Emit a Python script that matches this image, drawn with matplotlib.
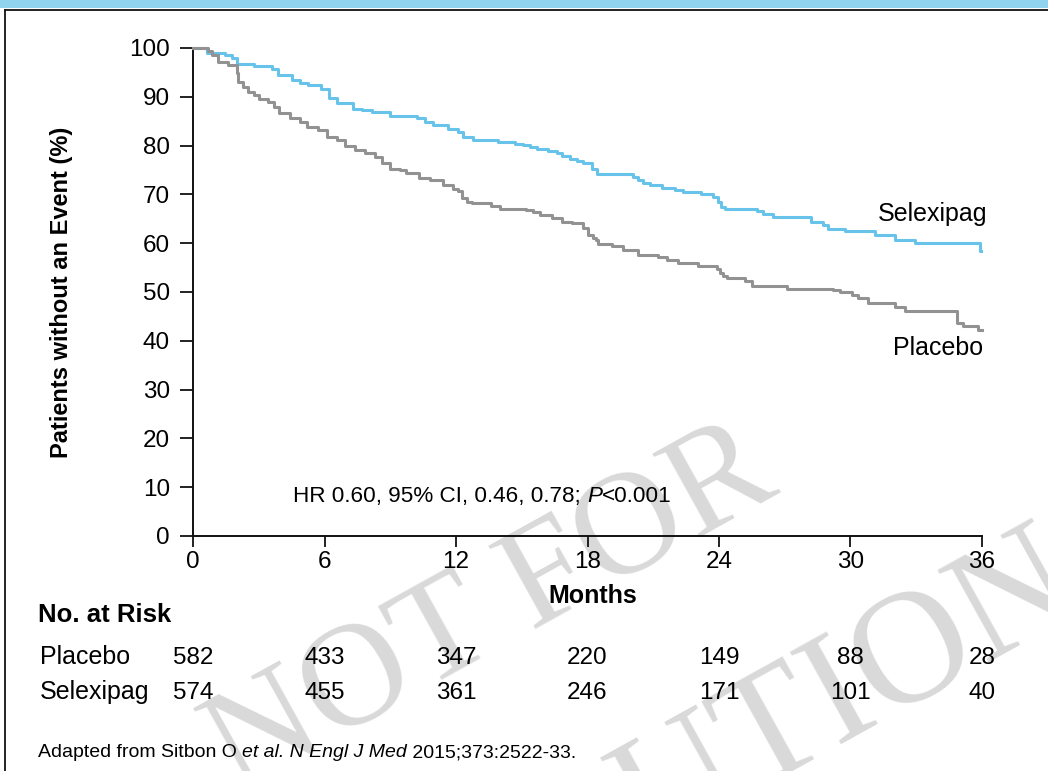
import matplotlib
matplotlib.use('Agg')
import matplotlib.pyplot as plt
import matplotlib.transforms as mtrans
from matplotlib.patches import Rectangle
from matplotlib.lines import Line2D
from matplotlib.font_manager import FontProperties

# ---------------- data ----------------
sel_months = [0, 0.65, 1.45, 1.78, 2.0, 2.8, 3.6, 3.9, 4.5, 4.9, 5.26, 5.84, 6.2, 6.55,
              7.31, 7.7, 8.15, 8.99, 10.2, 10.58, 10.96, 11.65, 12.1, 12.33, 12.79,
              13.93, 14.69, 15.07, 15.37, 15.68, 16.21, 16.59, 16.82, 17.2, 17.5, 17.81,
              18.19, 18.42, 20.09, 20.3, 20.54, 20.85, 21.38, 21.99, 22.37, 23.2, 23.74,
              23.96, 24.1, 24.27, 25.72, 26.02, 26.47, 28.22, 28.76, 28.99, 29.74, 31.11,
              32.03, 32.94, 35.9, 35.95]
sel_surv = [100, 99.0, 98.6, 97.9, 96.7, 96.3, 95.6, 94.4, 93.4, 92.9, 92.4, 91.5, 89.7, 88.7,
            87.5, 87.2, 86.8, 86.1, 85.6, 84.9, 84.2, 83.5, 82.8, 81.8, 81.1,
            80.8, 80.4, 80.1, 79.7, 79.3, 78.9, 78.5, 77.9, 77.3, 76.9, 76.4,
            75.2, 74.1, 73.5, 72.9, 72.4, 71.9, 71.4, 70.9, 70.4, 70.0, 69.5,
            68.5, 67.5, 67.0, 66.6, 66.0, 65.4, 64.4, 63.7, 62.9, 62.4, 61.7,
            60.7, 60.0, 58.3, 58.3]

pbo_months = [0, 0.67, 0.85, 1.16, 1.61, 1.99, 2.07, 2.29, 2.52, 2.8, 3.01, 3.44, 3.7, 3.94,
              4.43, 4.88, 5.19, 5.72, 6.1, 6.55, 6.93, 7.39, 7.85, 8.3, 8.61, 8.99, 9.44,
              9.7, 10.3, 10.8, 11.4, 11.88, 12.1, 12.26, 12.49, 12.72, 13.6, 14.0, 15.2,
              15.5, 15.83, 16.36, 16.82, 17.28, 17.8, 18.03, 18.26, 18.4, 18.49, 19.1,
              19.63, 20.32, 21.23, 21.61, 22.14, 23.05, 23.89, 24.05, 24.19, 24.35, 25.18,
              25.49, 27.08, 29.21, 29.52, 30.05, 30.35, 30.81, 32.03, 32.48, 34.84, 35.14,
              35.83, 36.0]
pbo_surv = [100, 99.3, 98.6, 97.2, 96.5, 94.8, 93.1, 92.1, 91.0, 90.3, 89.5, 89.0, 88.0, 86.6,
            85.6, 84.9, 83.9, 83.2, 81.8, 81.1, 79.9, 79.2, 78.4, 77.6, 76.5, 75.3, 75.0,
            74.3, 73.3, 72.95, 71.9, 71.2, 70.6, 69.2, 68.5, 68.2, 67.6, 67.1, 66.8,
            66.3, 65.8, 65.1, 64.4, 64.1, 63.1, 61.7, 61.0, 60.6, 59.8, 59.4,
            58.7, 57.6, 57.1, 56.6, 55.9, 55.4, 54.8, 53.8, 53.2, 52.8, 52.2,
            51.3, 50.7, 50.4, 50.1, 49.4, 48.7, 47.8, 47.0, 46.2, 43.6, 43.0,
            42.2, 42.2]

risk_months = [0, 6, 12, 18, 24, 30, 36]
risk_placebo = [582, 433, 347, 220, 149, 88, 28]
risk_selexipag = [574, 455, 361, 246, 171, 101, 40]

x_ticks = [0, 6, 12, 18, 24, 30, 36]
y_ticks = [0, 10, 20, 30, 40, 50, 60, 70, 80, 90, 100]

# ---------------- style ----------------
BLUE = '#67c3ea'
GREY = '#929292'
WM = '#d9d9d9'

plt.rcParams['font.family'] = ['Liberation Sans', 'DejaVu Sans']
plt.rcParams['mathtext.fontset'] = 'custom'
plt.rcParams['mathtext.rm'] = 'Liberation Sans'
plt.rcParams['mathtext.it'] = 'Liberation Sans:italic'
plt.rcParams['mathtext.bf'] = 'Liberation Sans:bold'

W, H, DPI = 1048, 771, 100
fig = plt.figure(figsize=(W / DPI, H / DPI), dpi=DPI)
fig.patch.set_facecolor('white')
renderer = fig.canvas.get_renderer()


def fx(px):
    return px / W


def fy(py):
    return 1 - py / H


def advance(s, size, style):
    prop = FontProperties(family='Liberation Sans', size=size, style=style)
    w1, _, _ = renderer.get_text_width_height_descent('|' + s + '|', prop, ismath=False)
    w0, _, _ = renderer.get_text_width_height_descent('||', prop, ismath=False)
    return w1 - w0


def rich_text(x_px, y_px, parts, size):
    x = x_px
    for s, style in parts:
        fig.text(fx(x), fy(y_px), s, fontsize=size, style=style, ha='left', va='baseline')
        x += advance(s, size, style)


# frame
fig.add_artist(Rectangle((0, fy(8)), 1, 8 / H, transform=fig.transFigure,
                         facecolor='#8fd3ef', edgecolor='none', zorder=5))
fig.add_artist(Line2D([fx(5), 1], [fy(9.5), fy(9.5)], transform=fig.transFigure,
                      color='#111111', lw=1.3, zorder=5))
fig.add_artist(Line2D([fx(5), fx(5)], [fy(9.5), 0], transform=fig.transFigure,
                      color='#111111', lw=1.3, zorder=5))

# watermark
SERIF = ['Liberation Serif', 'DejaVu Serif']
fig.text(fx(492), fy(612), 'NOT FOR', fontsize=106, family=SERIF,
         color=WM, rotation=29, ha='center', va='center', rotation_mode='anchor', zorder=-1)
fig.text(fx(575), fy(845), 'DISTRIBUTION', fontsize=116, family=SERIF,
         color=WM, rotation=29, ha='center', va='center', rotation_mode='anchor', zorder=-1)

# axes
ax = fig.add_axes([fx(193), fy(536), (982 - 193) / W, (536 - 48) / H])
ax.set_facecolor('none')
ax.step(sel_months, sel_surv, where='post', color=BLUE, lw=2.2, zorder=3, clip_on=False)
ax.step(pbo_months, pbo_surv, where='post', color=GREY, lw=2.2, zorder=3, clip_on=False)
ax.set_xlim(0, 36)
ax.set_ylim(0, 100)
ax.set_xticks(x_ticks)
ax.set_yticks(y_ticks)
for s in ['top', 'right']:
    ax.spines[s].set_visible(False)
for s in ['left', 'bottom']:
    ax.spines[s].set_linewidth(1.4)
    ax.spines[s].set_color('#111111')
ax.tick_params(axis='x', length=8, width=1.3, pad=3, labelsize=17.5, color='#111111')
ax.tick_params(axis='y', length=9.5, width=1.3, pad=7, labelsize=17.5, color='#111111')

ax.set_ylabel('Patients without an Event (%)', fontsize=17, fontweight='bold')
ax.yaxis.set_label_coords(-0.152, 0.5)

fig.text(fx(593), fy(603), 'Months', fontsize=18, fontweight='bold', ha='center', va='baseline')

fig.text(fx(987), fy(221), 'Selexipag', fontsize=18, ha='right', va='baseline')
fig.text(fx(983), fy(355), 'Placebo', fontsize=18, ha='right', va='baseline')

rich_text(293, 502, [('HR 0.60, 95% CI, 0.46, 0.78; ', 'normal'), ('P', 'italic'),
                     ('<0.001', 'normal')], 16.2)

# risk table
fig.text(fx(38), fy(622), 'No. at Risk', fontsize=18.5, fontweight='bold', ha='left', va='baseline')
fig.text(fx(40), fy(664), 'Placebo', fontsize=18, ha='left', va='baseline')
fig.text(fx(40), fy(699), 'Selexipag', fontsize=18, ha='left', va='baseline')
row_tr = mtrans.blended_transform_factory(ax.transData, fig.transFigure)
for m, p, s in zip(risk_months, risk_placebo, risk_selexipag):
    fig.text(m, fy(664), str(p), fontsize=17.5, ha='center', va='baseline', transform=row_tr)
    fig.text(m, fy(699), str(s), fontsize=17.5, ha='center', va='baseline', transform=row_tr)

rich_text(38, 757, [('Adapted from Sitbon O ', 'normal'), ('et al. N Engl J Med', 'italic'),
                    (' 2015;373:2522-33.', 'normal')], 14)

fig.savefig('out.png', dpi=DPI)
